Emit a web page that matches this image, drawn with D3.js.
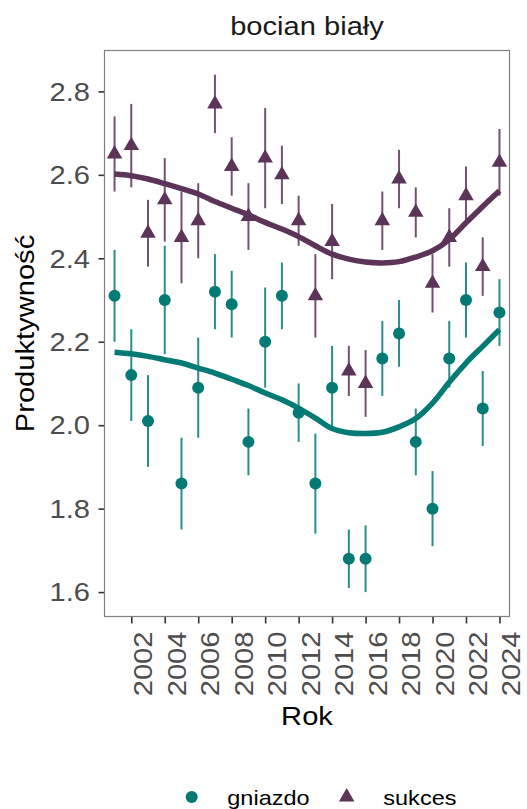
<!DOCTYPE html>
<html>
<head>
<meta charset="utf-8">
<script src="https://cdn.jsdelivr.net/npm/d3@7"></script>
<style>
  html, body { margin: 0; padding: 0; background: #ffffff; }
  svg { display: block; }
  text { font-family: "Liberation Sans", Arial, Helvetica, sans-serif; }
</style>
</head>
<body>
<svg id="chart" width="527" height="809"></svg>
<script>
// ---- data ----
const years = [2001,2002,2003,2004,2005,2006,2007,2008,2009,2010,2011,2012,2013,2014,2015,2016,2017,2018,2019,2020,2021,2022,2023,2024];

const gniazdo      = [2.31,2.12,2.01,2.30,1.86,2.09,2.32,2.29,1.96,2.20,2.31,2.03,1.86,2.09,1.68,1.68,2.16,2.22,1.96,1.80,2.16,2.30,2.04,2.27];
const gniazdoLow   = [2.20,2.01,1.90,2.17,1.75,1.97,2.23,2.21,1.88,2.09,2.23,1.96,1.74,1.99,1.61,1.60,2.07,2.14,1.88,1.71,2.09,2.21,1.95,2.19];
const gniazdoHigh  = [2.42,2.23,2.12,2.43,1.97,2.21,2.41,2.37,2.04,2.33,2.39,2.10,1.98,2.19,1.75,1.76,2.25,2.30,2.04,1.89,2.25,2.39,2.13,2.35];
const gniazdoFit   = [2.175,2.171,2.165,2.157,2.149,2.137,2.125,2.110,2.095,2.077,2.061,2.041,2.017,1.992,1.982,1.980,1.983,1.996,2.016,2.053,2.103,2.149,2.189,2.229];

const sukces       = [2.65,2.67,2.46,2.54,2.45,2.49,2.77,2.62,2.50,2.64,2.60,2.49,2.31,2.44,2.13,2.10,2.49,2.59,2.51,2.34,2.45,2.55,2.38,2.63];
const sukcesLow    = [2.56,2.57,2.38,2.44,2.34,2.40,2.70,2.55,2.42,2.52,2.53,2.43,2.21,2.35,2.07,2.02,2.42,2.52,2.45,2.27,2.38,2.49,2.31,2.55];
const sukcesHigh   = [2.74,2.77,2.54,2.64,2.56,2.58,2.84,2.69,2.58,2.76,2.67,2.55,2.41,2.53,2.19,2.18,2.56,2.66,2.57,2.41,2.52,2.62,2.45,2.71];
const sukcesFit    = [2.602,2.598,2.590,2.579,2.567,2.554,2.536,2.520,2.504,2.486,2.470,2.452,2.430,2.410,2.398,2.391,2.389,2.392,2.403,2.418,2.445,2.485,2.524,2.562];

const xTicks = [2002,2004,2006,2008,2010,2012,2014,2016,2018,2020,2022,2024];
const yTicks = [1.6,1.8,2.0,2.2,2.4,2.6,2.8];

const seriesNames = ["gniazdo","sukces"];
const title = "bocian biały";
const xTitle = "Rok";
const yTitle = "Produktywność";

// ---- styles ----
const colTeal = "#037a74";
const colPurple = "#5b3458";
const SX = 1.12; // horizontal text stretch to match reference glyph widths

const svg = d3.select("#chart");
const P = {left: 104.5, right: 509.5, top: 50.5, bottom: 616.5};

const x = d3.scaleLinear().domain([2000.4, 2024.6]).range([P.left, P.right]);
const y = d3.scaleLinear().domain([1.5415, 2.898]).range([P.bottom, P.top]);

// panel background
svg.append("rect").attr("x", P.left).attr("y", P.top)
  .attr("width", P.right - P.left).attr("height", P.bottom - P.top)
  .attr("fill", "#fff");

// axes (ticks only, via d3 axes)
const yAxis = svg.append("g").attr("transform", `translate(${P.left},0)`)
  .call(d3.axisLeft(y).tickValues(yTicks).tickSize(6).tickFormat(""));
const xAxis = svg.append("g").attr("transform", `translate(0,${P.bottom})`)
  .call(d3.axisBottom(x).tickValues(xTicks).tickSize(7).tickFormat(""));
[yAxis, xAxis].forEach(g => {
  g.select(".domain").remove();
  g.selectAll(".tick line").attr("stroke", "#333").attr("stroke-width", 1.6);
});

// y tick labels
svg.append("g").selectAll("text").data(yTicks).join("text")
  .attr("transform", d => `translate(90,${y(d) + 9.3}) scale(${SX},1)`)
  .attr("text-anchor", "end").attr("font-size", 26).attr("fill", "#4d4d4d")
  .text(d => d3.format(".1f")(d));

// x tick labels (rotated)
svg.append("g").selectAll("text").data(xTicks).join("text")
  .attr("transform", d => `translate(${x(d) + 21},631.5) rotate(-90) scale(${SX},1)`)
  .attr("text-anchor", "end").attr("font-size", 26).attr("fill", "#4d4d4d")
  .text(d => d);

// error bars
function errorbars(cls, low, high, col) {
  svg.append("g").selectAll("line." + cls).data(years).join("line")
    .attr("class", cls)
    .attr("x1", d => x(d)).attr("x2", d => x(d))
    .attr("y1", (d, i) => y(low[i])).attr("y2", (d, i) => y(high[i]))
    .attr("stroke", col).attr("stroke-width", 2).attr("stroke-opacity", 0.85);
}
errorbars("eg", gniazdoLow, gniazdoHigh, colTeal);
errorbars("es", sukcesLow, sukcesHigh, colPurple);

// smooth lines
const line = d3.line().x(d => x(d[0])).y(d => y(d[1])).curve(d3.curveCatmullRom.alpha(0.5));
svg.append("path").datum(years.map((yr, i) => [yr, gniazdoFit[i]]))
  .attr("d", line).attr("fill", "none").attr("stroke", colTeal).attr("stroke-width", 5.5);
svg.append("path").datum(years.map((yr, i) => [yr, sukcesFit[i]]))
  .attr("d", line).attr("fill", "none").attr("stroke", colPurple).attr("stroke-width", 5.5);

// points
const tri = d3.symbol().type(d3.symbolTriangle).size(104);
svg.append("g").selectAll("circle").data(years).join("circle")
  .attr("cx", d => x(d)).attr("cy", (d, i) => y(gniazdo[i])).attr("r", 6)
  .attr("fill", colTeal);
svg.append("g").selectAll("path").data(years).join("path")
  .attr("d", tri).attr("transform", (d, i) => `translate(${x(d)},${y(sukces[i])})`)
  .attr("fill", colPurple);

// panel border
svg.append("rect").attr("x", P.left).attr("y", P.top)
  .attr("width", P.right - P.left).attr("height", P.bottom - P.top)
  .attr("fill", "none").attr("stroke", "#7f7f7f").attr("stroke-width", 1.2);

// title
svg.append("text").attr("transform", `translate(${(P.left + P.right) / 2},35) scale(${SX},1)`)
  .attr("text-anchor", "middle").attr("font-size", 26).attr("fill", "#1a1a1a").text(title);

// axis titles
svg.append("text").attr("transform", `translate(307,725) scale(${SX},1)`)
  .attr("text-anchor", "middle").attr("font-size", 26).attr("fill", "#000").text(xTitle);
svg.append("text").attr("transform", `translate(34,${(P.top + P.bottom) / 2}) rotate(-90) scale(${SX},1)`)
  .attr("text-anchor", "middle").attr("font-size", 26).attr("fill", "#000").text(yTitle);

// legend
const lg = svg.append("g");
lg.append("circle").attr("cx", 191.7).attr("cy", 797).attr("r", 6).attr("fill", colTeal);
lg.append("text").attr("transform", `translate(227.3,805) scale(${SX},1)`)
  .attr("font-size", 21).attr("fill", "#000").text(seriesNames[0]);
lg.append("path").attr("d", tri).attr("transform", "translate(346.7,797)").attr("fill", colPurple);
lg.append("text").attr("transform", `translate(383.3,805) scale(${SX},1)`)
  .attr("font-size", 21).attr("fill", "#000").text(seriesNames[1]);
</script>
</body>
</html>
